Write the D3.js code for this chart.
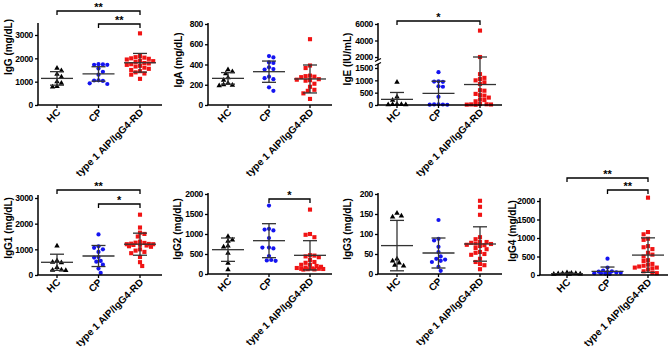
<!DOCTYPE html>
<html><head><meta charset="utf-8">
<script src="https://cdn.jsdelivr.net/npm/d3@7"></script>
<style>
body{margin:0;background:#fff}
svg{display:block}
text{font-family:"Liberation Sans",Arial,sans-serif}
</style>
</head><body>
<svg id="c" width="670" height="350"></svg>
<script>
// ---------- data ----------
const groups = ["HC", "CP", "type 1 AIP/IgG4-RD"];

const IgG_HC  = [1580, 1470, 1320, 1200, 1000, 940, 800, 780];
const IgG_CP  = [1750, 1740, 1720, 1720, 1560, 1420, 1300, 1060, 1050, 1030, 930, 900];
const IgG_AIP = [3070, 2100, 2050, 2030, 2000, 1980, 1950, 1900, 1880, 1850, 1800, 1780, 1750, 1720, 1680, 1650, 1600, 1550, 1500, 1450, 1400, 1350, 1300, 1120];
const IgG_mean = [1140, 1330, 1810];
const IgG_sd   = [290, 310, 400];
const IgG_ticks = [0, 1000, 2000, 3000];

const IgA_HC  = [350, 330, 310, 270, 245, 215, 200, 195, 190];
const IgA_CP  = [483, 470, 420, 415, 372, 355, 350, 280, 265, 255, 175, 140];
const IgA_AIP = [650, 390, 365, 290, 285, 280, 275, 255, 250, 245, 240, 210, 180, 150, 140, 115, 60];
const IgA_mean = [263, 329, 257];
const IgA_sd   = [57, 105, 138];
const IgA_ticks = [0, 200, 400, 600, 800];

const IgE_HC  = [930, 330, 200, 30, 25, 20, 15, 10];
const IgE_CP  = [1330, 960, 950, 940, 760, 740, 330, 30, 25, 20, 15, 10];
const IgE_AIP = [5200, 2000, 1250, 1100, 1050, 1000, 920, 850, 600, 580, 450, 400, 380, 300, 220, 200, 150, 40, 30, 25, 20, 15, 10];
const IgE_mean = [228, 468, 830];
const IgE_sd   = [280, 495, 1170];
const IgE_ticksLow  = [0, 500, 1000, 1500];
const IgE_ticksHigh = [2000, 4000, 6000];

const IgG1_HC  = [1130, 560, 500, 480, 300, 200, 190, 180];
const IgG1_CP  = [1580, 1120, 1060, 1000, 900, 700, 680, 550, 520, 400, 250, 80];
const IgG1_AIP = [2350, 1850, 1650, 1600, 1500, 1300, 1260, 1250, 1220, 1210, 1200, 1200, 1180, 1170, 1150, 1120, 1100, 1000, 950, 900, 850, 700, 500, 350];
const IgG1_mean = [495, 740, 1200];
const IgG1_sd   = [315, 410, 430];
const IgG1_ticks = [0, 1000, 2000, 3000];

const IgG2_HC  = [940, 850, 820, 700, 680, 520, 270, 110];
const IgG2_CP  = [1710, 1130, 1110, 1090, 900, 660, 660, 640, 450, 350, 340, 330];
const IgG2_AIP = [1610, 1000, 980, 920, 470, 460, 440, 420, 350, 300, 280, 230, 230, 200, 180, 160, 150, 140, 130, 130, 125, 120, 115, 110];
const IgG2_mean = [608, 833, 467];
const IgG2_sd   = [292, 425, 366];
const IgG2_ticks = [0, 500, 1000, 1500, 2000];

const IgG3_HC  = [152, 145, 143, 38, 33, 28, 22, 20];
const IgG3_CP  = [135, 88, 84, 68, 55, 44, 38, 36, 33, 30, 18, 8];
const IgG3_AIP = [183, 168, 148, 92, 87, 80, 80, 78, 76, 75, 73, 72, 70, 65, 62, 55, 53, 50, 48, 38, 30, 25, 22, 12];
const IgG3_mean = [71, 52.5, 75];
const IgG3_sd   = [63, 37.5, 43];
const IgG3_ticks = [0, 50, 100, 150, 200];

const IgG4_HC  = [60, 50, 45, 40, 35, 30, 25, 20];
const IgG4_CP  = [440, 200, 120, 100, 90, 80, 70, 60, 50, 50, 40, 30];
const IgG4_AIP = [2090, 1160, 1100, 980, 950, 780, 750, 700, 600, 550, 500, 400, 380, 300, 280, 250, 230, 200, 200, 180, 150, 100, 60, 50];
const IgG4_mean = [35, 100, 538];
const IgG4_sd   = [15, 115, 466];
const IgG4_ticks = [0, 500, 1000, 1500, 2000];

// significance: [groupA, groupB, label]
const IgG_sig  = [[0, 2, "**"], [1, 2, "**"]];
const IgE_sig  = [[0, 2, "*"]];
const IgG1_sig = [[0, 2, "**"], [1, 2, "*"]];
const IgG2_sig = [[1, 2, "*"]];
const IgG4_sig = [[0, 2, "**"], [1, 2, "**"]];

// ---------- drawing ----------
const svg = d3.select("#c");
const colors = ["#000000", "#1414f0", "#f01414"];
const shapes = [d3.symbolTriangle, d3.symbolCircle, d3.symbolSquare];
const sizes = [13, 14, 17];

function swarm(vals, yf, cx, d, maxOff) {
  const pts = vals.map(v => ({v, y: yf(v)})).sort((a, b) => a.y - b.y);
  const placed = [];
  const step = d * 0.5;
  pts.forEach((p, i) => {
    const cands = [0];
    for (let m = step; m <= maxOff + 0.01; m += step) {
      if (i % 2) cands.push(m, -m); else cands.push(-m, m);
    }
    let best = null, bestScore = -1;
    for (const off of cands) {
      const md = placed.length ? Math.min(...placed.map(q => Math.hypot(q.x - (cx + off), q.y - p.y))) : 1e9;
      if (md >= d) { best = off; break; }
      if (md > bestScore) { bestScore = md; best = off; }
    }
    placed.push({x: cx + best, y: p.y, v: p.v});
  });
  return placed;
}

function lin(dom, rng) { return d3.scaleLinear().domain(dom).range(rng); }

const igeLow = lin([0, 1500], [105, 68]);
const igeHigh = lin([2000, 6000], [57, 24]);

const panels = [
  {label: "IgG (mg/dL)", data: [IgG_HC, IgG_CP, IgG_AIP], mean: IgG_mean, sd: IgG_sd, sig: IgG_sig,
   x0: 38, x1: 162, cx: [57, 140], yb: 105, labX: 8, labY: 47, sigY: [11, 24],
   axes: [{s: lin([0, 3000], [105, 35]), t: IgG_ticks, from: 105, to: 23}]},
  {label: "IgA (mg/dL)", data: [IgA_HC, IgA_CP, IgA_AIP], mean: IgA_mean, sd: IgA_sd, sig: [],
   x0: 208, x1: 332, cx: [228, 310], yb: 105, labX: 178, labY: 60, sigY: [],
   axes: [{s: lin([0, 800], [105, 24]), t: IgA_ticks, from: 105, to: 23}]},
  {label: "IgE (IU/mL)", data: [IgE_HC, IgE_CP, IgE_AIP], mean: IgE_mean, sd: IgE_sd, sig: IgE_sig,
   x0: 378, x1: 502, cx: [397, 480], yb: 105, labX: 347, labY: 59, sigY: [21],
   axes: [{s: igeLow, t: IgE_ticksLow, from: 105, to: 64, brkTop: true},
          {s: igeHigh, t: IgE_ticksHigh, from: 60, to: 23, brkBot: true}],
   yf: v => v < 1750 ? igeLow(v) : igeHigh(v)},
  {label: "IgG1 (mg/dL)", data: [IgG1_HC, IgG1_CP, IgG1_AIP], mean: IgG1_mean, sd: IgG1_sd, sig: IgG1_sig,
   x0: 38, x1: 162, cx: [57, 140], yb: 275, labX: 8, labY: 228, sigY: [190, 204],
   axes: [{s: lin([0, 3000], [275, 198]), t: IgG1_ticks, from: 275, to: 195}]},
  {label: "IgG2 (mg/dL)", data: [IgG2_HC, IgG2_CP, IgG2_AIP], mean: IgG2_mean, sd: IgG2_sd, sig: IgG2_sig,
   x0: 208, x1: 332, cx: [228, 310], yb: 274, labX: 177, labY: 229, sigY: [199],
   axes: [{s: lin([0, 2000], [274, 194]), t: IgG2_ticks, from: 274, to: 193}]},
  {label: "IgG3 (mg/dL)", data: [IgG3_HC, IgG3_CP, IgG3_AIP], mean: IgG3_mean, sd: IgG3_sd, sig: [],
   x0: 378, x1: 502, cx: [397, 480], yb: 274, labX: 347, labY: 229, sigY: [],
   axes: [{s: lin([0, 200], [274, 194]), t: IgG3_ticks, from: 274, to: 193}]},
  {label: "IgG4 (mg/dL)", data: [IgG4_HC, IgG4_CP, IgG4_AIP], mean: IgG4_mean, sd: IgG4_sd, sig: IgG4_sig,
   x0: 540, x1: 668, cx: [567, 648], yb: 275, labX: 512, labY: 231, sigY: [178, 190],
   axes: [{s: lin([0, 2000], [275, 201]), t: IgG4_ticks, from: 275, to: 198}]}
];

panels.forEach(p => {
  const g = svg.append("g");
  const x = d3.scalePoint().domain(groups).range(p.cx);
  const yf = p.yf || p.axes[0].s;

  // points
  p.data.forEach((vals, gi) => {
    const pos = swarm(vals, yf, x(groups[gi]), 4.4, 15);
    g.append("g").selectAll("path").data(pos).join("path")
      .attr("transform", d => `translate(${d.x},${d.y})`)
      .attr("d", d3.symbol(shapes[gi], sizes[gi])())
      .attr("fill", colors[gi]);
  });

  // mean +/- SD
  groups.forEach((gname, gi) => {
    const cx = x(gname);
    const m = p.mean[gi], s = p.sd[gi];
    const ym = yf(m), yt = yf(m + s), ybt = yf(Math.max(0, m - s));
    const lg = g.append("g").attr("stroke", "#333").attr("stroke-width", 1.3).attr("fill", "none");
    lg.append("line").attr("x1", cx - 16).attr("x2", cx + 16).attr("y1", ym).attr("y2", ym);
    lg.append("line").attr("x1", cx).attr("x2", cx).attr("y1", yt).attr("y2", ybt);
    lg.append("line").attr("x1", cx - 7).attr("x2", cx + 7).attr("y1", yt).attr("y2", yt);
    if (m - s > 0) lg.append("line").attr("x1", cx - 7).attr("x2", cx + 7).attr("y1", ybt).attr("y2", ybt);
  });

  // y axes
  p.axes.forEach(a => {
    const ag = g.append("g").attr("transform", `translate(${p.x0},0)`)
      .call(d3.axisLeft(a.s).tickValues(a.t).tickSize(3).tickPadding(2).tickFormat(d3.format("d")));
    ag.select(".domain").remove();
    ag.selectAll(".tick line").attr("stroke", "#000").attr("stroke-width", 1.3);
    ag.selectAll(".tick text").attr("font-size", 8.5).attr("font-weight", "bold")
      .attr("letter-spacing", -0.3)
      .attr("font-family", "'Liberation Sans', Arial, sans-serif").attr("fill", "#000");
    g.append("line").attr("x1", p.x0).attr("x2", p.x0).attr("y1", a.from).attr("y2", a.to)
      .attr("stroke", "#000").attr("stroke-width", 1.5);
    if (a.brkTop) g.append("line").attr("x1", p.x0 - 3).attr("x2", p.x0 + 3).attr("y1", a.to + 1.5).attr("y2", a.to - 1.5)
      .attr("stroke", "#000").attr("stroke-width", 1.2);
    if (a.brkBot) g.append("line").attr("x1", p.x0 - 3).attr("x2", p.x0 + 3).attr("y1", a.from + 1.5).attr("y2", a.from - 1.5)
      .attr("stroke", "#000").attr("stroke-width", 1.2);
  });

  // x axis
  g.append("line").attr("x1", p.x0 - 0.75).attr("x2", p.x1).attr("y1", p.yb).attr("y2", p.yb)
    .attr("stroke", "#000").attr("stroke-width", 1.5);
  groups.forEach(gname => {
    const cx = x(gname);
    g.append("line").attr("x1", cx).attr("x2", cx).attr("y1", p.yb).attr("y2", p.yb + 3)
      .attr("stroke", "#000").attr("stroke-width", 1.3);
    g.append("text").attr("transform", `translate(${cx + 4},${p.yb + 8}) rotate(-45)`)
      .attr("text-anchor", "end").attr("font-size", 10).attr("font-weight", "bold").text(gname);
  });

  // y label
  g.append("text").attr("transform", `translate(${p.labX},${p.labY}) rotate(-90)`)
    .attr("text-anchor", "middle").attr("dominant-baseline", "central")
    .attr("font-size", 10).attr("font-weight", "bold").text(p.label);

  // significance brackets
  p.sig.forEach((sg, i) => {
    const xa = x(groups[sg[0]]), xb = x(groups[sg[1]]), yy = p.sigY[i];
    g.append("path").attr("d", `M${xa},${yy + 4}V${yy}H${xb}V${yy + 4}`)
      .attr("fill", "none").attr("stroke", "#000").attr("stroke-width", 1.3);
    g.append("text").attr("x", (xa + xb) / 2).attr("y", yy - 0.5).attr("text-anchor", "middle")
      .attr("font-size", 11).attr("font-weight", "bold").text(sg[2]);
  });
});
</script>
</body></html>
